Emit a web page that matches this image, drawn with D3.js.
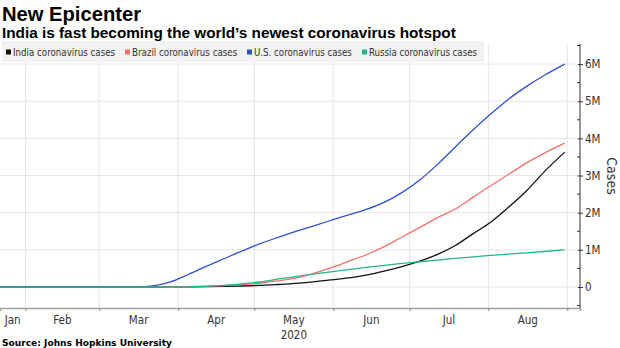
<!DOCTYPE html>
<html><head><meta charset="utf-8">
<script src="https://cdn.jsdelivr.net/npm/d3@7/dist/d3.min.js"></script>
<style>body{margin:0;background:#fff;} svg{display:block}</style>
</head><body><svg id="c" width="620" height="348"></svg>
<script>
// ---- data (cumulative cases, millions) ----
const dates = ["2020-01-22","2020-02-01","2020-02-15","2020-03-01","2020-03-08","2020-03-15","2020-03-22","2020-03-29",
  "2020-04-05","2020-04-12","2020-04-19","2020-04-26","2020-05-03","2020-05-10","2020-05-17","2020-05-24","2020-05-31",
  "2020-06-07","2020-06-14","2020-06-21","2020-06-28","2020-07-05","2020-07-12","2020-07-19","2020-07-26",
  "2020-08-02","2020-08-09","2020-08-16","2020-08-23","2020-08-31"];
const india  = [0,0,0,0,0,0.0001,0.0004,0.001,0.0043,0.0092,0.0173,0.0265,0.0425,0.067,0.095,0.138,0.190,0.247,0.320,0.426,0.549,0.697,0.879,1.118,1.436,1.750,2.153,2.590,3.106,3.63];
const brazil = [0,0,0,0,0,0.0002,0.0016,0.0043,0.011,0.022,0.039,0.062,0.101,0.163,0.241,0.363,0.514,0.691,0.868,1.085,1.345,1.604,1.866,2.099,2.419,2.733,3.035,3.340,3.605,3.87];
const us     = [0,0,0,0.0001,0.0005,0.0035,0.033,0.14,0.337,0.555,0.76,0.965,1.16,1.33,1.49,1.64,1.79,1.94,2.09,2.28,2.54,2.88,3.30,3.77,4.23,4.66,5.06,5.40,5.70,6.00];
const russia = [0,0,0,0,0,0.0001,0.0004,0.0015,0.0054,0.0158,0.0429,0.0809,0.1347,0.2097,0.2818,0.3445,0.4058,0.4677,0.529,0.5847,0.6344,0.6803,0.726,0.770,0.811,0.850,0.887,0.920,0.956,1.00];
const seriesNames = ["India coronavirus cases","Brazil coronavirus cases","U.S. coronavirus cases","Russia coronavirus cases"];
const seriesValues = [india, brazil, us, russia];
const seriesColors = ["#111111","#f4706e","#2f4fd6","#26b48a"];
const yTicks = [0,1,2,3,4,5,6];
const yTickLabels = ["0","1M","2M","3M","4M","5M","6M"];
const monthLabels = ["Jan","Feb","Mar","Apr","May","Jun","Jul","Aug"];
const yearLabel = "2020";
const title = "New Epicenter";
const subtitle = "India is fast becoming the world\u2019s newest coronavirus hotspot";
const source = "Source: Johns Hopkins University";
const yAxisTitle = "Cases";

// ---- layout ----
const svg = d3.select("#c");
const parse = d3.utcParse("%Y-%m-%d");
const L = 0, R = 580, T = 44, B = 308;
const x = d3.scaleUtc().domain([parse("2020-01-22"), parse("2020-09-06")]).range([L, R]);
const y = d3.scaleLinear().domain([-0.565, 6.54]).range([B, T]);
const AX = "#333333";
const FONT = "'DejaVu Sans Condensed','Liberation Sans Narrow','DejaVu Sans',sans-serif";

function fit(sel, w){
  const n = sel.node(); let fs = parseFloat(sel.attr("font-size"));
  for (let i=0;i<3;i++){ const cw = n.getComputedTextLength(); if (!cw) break; fs = fs*w/cw; sel.attr("font-size", fs.toFixed(2)); }
}

// gridlines
const monthStarts = d3.utcMonth.range(parse("2020-02-01"), parse("2020-09-02"));
svg.append("g").selectAll("line").data(monthStarts).join("line")
  .attr("x1", d=>x(d)).attr("x2", d=>x(d)).attr("y1", T).attr("y2", B)
  .attr("stroke", "#e6e6e6").attr("stroke-width", 1);
svg.append("g").selectAll("line").data(yTicks).join("line")
  .attr("x1", L).attr("x2", R).attr("y1", d=>y(d)).attr("y2", d=>y(d))
  .attr("stroke", "#e6e6e6").attr("stroke-width", 1);

// legend
const lg = svg.append("g");
lg.append("rect").attr("x", 2).attr("y", 41).attr("width", 482).attr("height", 21).attr("fill", "#f2f2f2");
const legendWidths = [102, 105, 98, 108];
let lx = 6;
seriesNames.forEach((nm,i)=>{
  lg.append("rect").attr("x", lx).attr("y", 49.5).attr("width", 5).attr("height", 5).attr("fill", seriesColors[i]);
  const t = lg.append("text").attr("x", lx+7).attr("y", 56).attr("font-family", FONT).attr("font-size", 11)
    .attr("fill", "#333").text(nm);
  fit(t, legendWidths[i]);
  lx += 7 + legendWidths[i] + 10;
});

// lines
const line = d3.line().x((d,i)=>x(parse(dates[i]))).y(d=>y(d)).curve(d3.curveMonotoneX);
svg.append("g").selectAll("path").data(seriesValues).join("path")
  .attr("d", d=>line(d)).attr("fill","none").attr("stroke",(d,i)=>seriesColors[i]).attr("stroke-width",1.3);

// bottom axis
const xa = svg.append("g").attr("transform", `translate(0,${B})`)
  .call(d3.axisBottom(x).tickValues(monthStarts).tickSize(3).tickFormat(""));
xa.select(".domain").attr("stroke", "#a0a0a0").attr("stroke-width", 1.5);
xa.selectAll(".tick line").attr("stroke", "#888");
const monthAll = d3.utcMonth.range(parse("2020-01-01"), parse("2020-09-01"));
svg.append("g").selectAll("text").data(monthAll).join("text")
  .attr("x", (d,i)=>{ const a = Math.max(x(d), L); const b = x(d3.utcMonth.offset(d,1)); return (a+b)/2; })
  .attr("y", 324).attr("text-anchor","middle").attr("font-family", FONT).attr("font-size", 11.5).attr("fill", AX)
  .text((d,i)=>monthLabels[i]);
svg.append("text").attr("x", (x(parse("2020-05-01"))+x(parse("2020-06-01")))/2).attr("y", 339)
  .attr("text-anchor","middle").attr("font-family", FONT).attr("font-size", 11.5).attr("fill", AX).text(yearLabel);

// right axis
const ya = svg.append("g").attr("transform", `translate(${R},0)`)
  .call(d3.axisRight(y).tickValues(yTicks).tickSize(3).tickPadding(2).tickFormat((d,i)=>yTickLabels[i]));
ya.select(".domain").attr("d", `M0,${T}V${B}`).attr("stroke", AX);
ya.selectAll(".tick line").attr("x1", -2).attr("stroke", AX);
ya.selectAll(".tick text").attr("font-family", FONT).attr("font-size", 11.5).attr("fill", AX);
const minor = d3.range(-0.5, 6.6, 1);
svg.append("g").selectAll("line").data(minor).join("line")
  .attr("x1", R-3).attr("x2", R).attr("y1", d=>y(d)).attr("y2", d=>y(d)).attr("stroke", AX);
svg.append("text").attr("transform", `translate(607,176) rotate(90)`).attr("text-anchor","middle")
  .attr("font-family", FONT).attr("font-size", 14).attr("fill", AX).text(yAxisTitle);

// titles
const tt = svg.append("text").attr("x", 2).attr("y", 21).attr("font-family","'Liberation Sans',Arial,sans-serif")
  .attr("font-weight","bold").attr("font-size", 21).attr("fill","#000").text(title);
fit(tt, 139);
const st = svg.append("text").attr("x", 2).attr("y", 38).attr("font-family","'Liberation Sans',Arial,sans-serif")
  .attr("font-weight","bold").attr("font-size", 14).attr("fill","#000").text(subtitle);
fit(st, 454);
const so = svg.append("text").attr("x", 2).attr("y", 346).attr("font-family","'DejaVu Sans',sans-serif")
  .attr("font-weight","bold").attr("font-size", 10).attr("fill","#000").text(source);
fit(so, 170);
</script></body></html>
